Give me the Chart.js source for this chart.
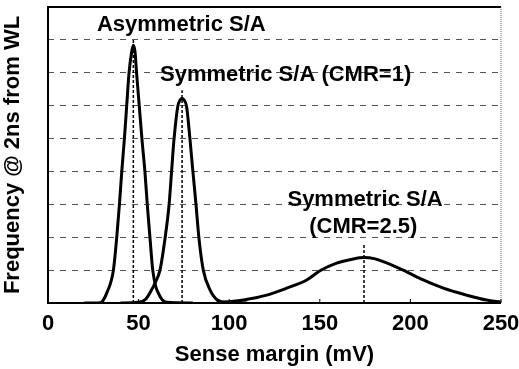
<!DOCTYPE html>
<html>
<head>
<meta charset="utf-8">
<script src="https://cdn.jsdelivr.net/npm/chart.js@4/dist/chart.umd.min.js"></script>
<style>
  html, body { margin: 0; padding: 0; background: #fff; }
  #wrap { width: 519px; height: 369px; position: relative; }
</style>
</head>
<body>
<div id="wrap"><canvas id="chart"></canvas></div>
<script>
// ── Data ───────────────────────────────────────────────────────────────
var asymX = [20, 28.7, 30.5, 32.4, 36.1, 37.9, 39.4, 40.7, 42.1, 43.4, 44.7, 46.2, 47.1, 48.0, 48.9, 50.4, 51.9, 53.5, 54.8, 56.3, 57.8, 59.5, 60.9, 63, 65.5, 80];
var asymY = [0, 0.01, 0.09, 0.3, 1.0, 1.97, 2.98, 3.99, 4.95, 5.97, 6.98, 7.65, 7.84, 7.65, 6.98, 5.97, 4.95, 3.99, 2.98, 1.97, 1.0, 0.5, 0.3, 0.1, 0.02, 0];

var sym1X = [40, 49.7, 54, 57.2, 59, 61.8, 64.6, 66.8, 68.2, 69.5, 71.6, 73, 74, 75, 76.5, 78.4, 79.9, 81.7, 83.3, 85.7, 89.4, 93.8, 100, 110];
var sym1Y = [0, 0.02, 0.12, 0.4, 0.6, 1.0, 1.97, 2.98, 4.0, 4.95, 5.97, 6.18, 6.22, 6.18, 5.97, 4.95, 4.04, 2.98, 1.97, 1.0, 0.4, 0.08, 0.01, 0];

var sym25X = [93, 107.8, 120.7, 131.7, 142.8, 150.1, 159.3, 168.5, 174.4, 180, 185, 196, 207.1, 218.2, 231, 242, 250];
var sym25Y = [0, 0.09, 0.24, 0.45, 0.7, 0.98, 1.21, 1.34, 1.38, 1.35, 1.26, 1.0, 0.7, 0.45, 0.24, 0.09, 0.03];

// peak markers (dashed verticals)
var peakX = [47.1, 74, 174.4];
var peakTop = [8.0, 6.47, 1.82];

var xTicks = [0, 50, 100, 150, 200, 250];
var labelTexts = ["Asymmetric S/A", "Symmetric S/A (CMR=1)", "Symmetric S/A", "(CMR=2.5)"];

var FONT = '"Liberation Sans", Arial, sans-serif';

function toPoints(xs, ys) {
    return xs.map(function (x, i) { return { x: x, y: ys[i] }; });
}

function curve(xs, ys) {
    return {
        data: toPoints(xs, ys),
        borderColor: "#000",
        borderWidth: 3,
        pointRadius: 0,
        fill: false,
        cubicInterpolationMode: "monotone",
    };
}

function marker(i) {
    return {
        data: [{ x: peakX[i], y: 0 }, { x: peakX[i], y: peakTop[i] }],
        borderColor: "#000",
        borderWidth: 1.5,
        borderDash: [3, 2],
        pointRadius: 0,
        fill: false,
    };
}

// ── Frame: solid left/top/bottom, dotted right, inner x ticks ──────────
var framePlugin = {
    id: "frame",
    afterDatasetsDraw: function (chart) {
        var a = chart.chartArea;
        var ctx = chart.ctx;
        var xs = chart.scales.x;
        ctx.save();
        ctx.strokeStyle = "#000";
        ctx.lineWidth = 2;
        ctx.beginPath();
        ctx.moveTo(a.right, a.top);
        ctx.lineTo(a.left, a.top);
        ctx.lineTo(a.left, a.bottom);
        ctx.lineTo(a.right, a.bottom);
        ctx.stroke();
        ctx.lineWidth = 1;
        ctx.strokeStyle = "#666";
        ctx.setLineDash([1, 1]);
        ctx.beginPath();
        ctx.moveTo(a.right, a.top);
        ctx.lineTo(a.right, a.bottom);
        ctx.stroke();
        ctx.setLineDash([]);
        ctx.strokeStyle = "#000";
        xTicks.forEach(function (v) {
            var px = xs.getPixelForValue(v);
            ctx.beginPath();
            ctx.moveTo(px, a.bottom);
            ctx.lineTo(px, a.bottom - 4);
            ctx.stroke();
        });
        ctx.restore();
    },
};

// ── Curve labels ───────────────────────────────────────────────────────
var labelPlugin = {
    id: "curveLabels",
    afterDatasetsDraw: function (chart) {
        var ctx = chart.ctx;
        var xs = chart.scales.x;
        var ys = chart.scales.y;
        ctx.save();
        ctx.fillStyle = "#000";
        ctx.font = "bold 22px " + FONT;
        ctx.textBaseline = "middle";
        ctx.textAlign = "left";
        ctx.fillText(labelTexts[0], xs.getPixelForValue(27), ys.getPixelForValue(8.45));
        ctx.fillText(labelTexts[1], xs.getPixelForValue(61.8), ys.getPixelForValue(6.93));
        ctx.textAlign = "center";
        ctx.fillText(labelTexts[2], xs.getPixelForValue(175), ys.getPixelForValue(3.13));
        ctx.fillText(labelTexts[3], xs.getPixelForValue(174), ys.getPixelForValue(2.31));
        ctx.restore();
    },
};

new Chart(document.getElementById("chart"), {
    type: "line",
    data: {
        datasets: [
            curve(asymX, asymY),
            curve(sym1X, sym1Y),
            curve(sym25X, sym25Y),
            marker(0),
            marker(1),
            marker(2),
        ],
    },
    options: {
        responsive: true,
        maintainAspectRatio: false,
        animation: false,
        layout: { padding: { left: 0, right: 18, top: 7, bottom: 0 } },
        plugins: {
            legend: { display: false },
            tooltip: { enabled: false },
        },
        scales: {
            x: {
                type: "linear",
                min: 0,
                max: 250,
                afterBuildTicks: function (s) {
                    s.ticks = xTicks.map(function (v) { return { value: v }; });
                },
                afterFit: function (s) {
                    s.height = 66;
                    s.paddingLeft = 0;
                    s.paddingRight = 0;
                },
                ticks: {
                    color: "#000",
                    font: { family: FONT, size: 22, weight: "bold" },
                    padding: 8,
                    maxRotation: 0,
                },
                grid: { display: false, drawTicks: false },
                border: { display: false },
                title: {
                    display: true,
                    text: "Sense margin (mV)",
                    color: "#000",
                    font: { family: FONT, size: 22, weight: "bold" },
                    padding: { top: 0, bottom: 1 },
                },
            },
            y: {
                min: 0,
                max: 9,
                afterFit: function (s) { s.width = 48; },
                ticks: { display: false, stepSize: 1 },
                grid: {
                    color: function (c) {
                        var v = c.tick ? c.tick.value : 0;
                        return (v === 0 || v === 9) ? "rgba(0,0,0,0)" : "#555";
                    },
                    lineWidth: 1,
                    drawTicks: false,
                },
                border: { display: false, dash: [6, 6] },
                title: {
                    display: true,
                    text: "Frequency @ 2ns from WL",
                    color: "#000",
                    font: { family: FONT, size: 22, weight: "bold" },
                    padding: 0,
                },
            },
        },
    },
    plugins: [framePlugin, labelPlugin],
});
</script>
</body>
</html>
